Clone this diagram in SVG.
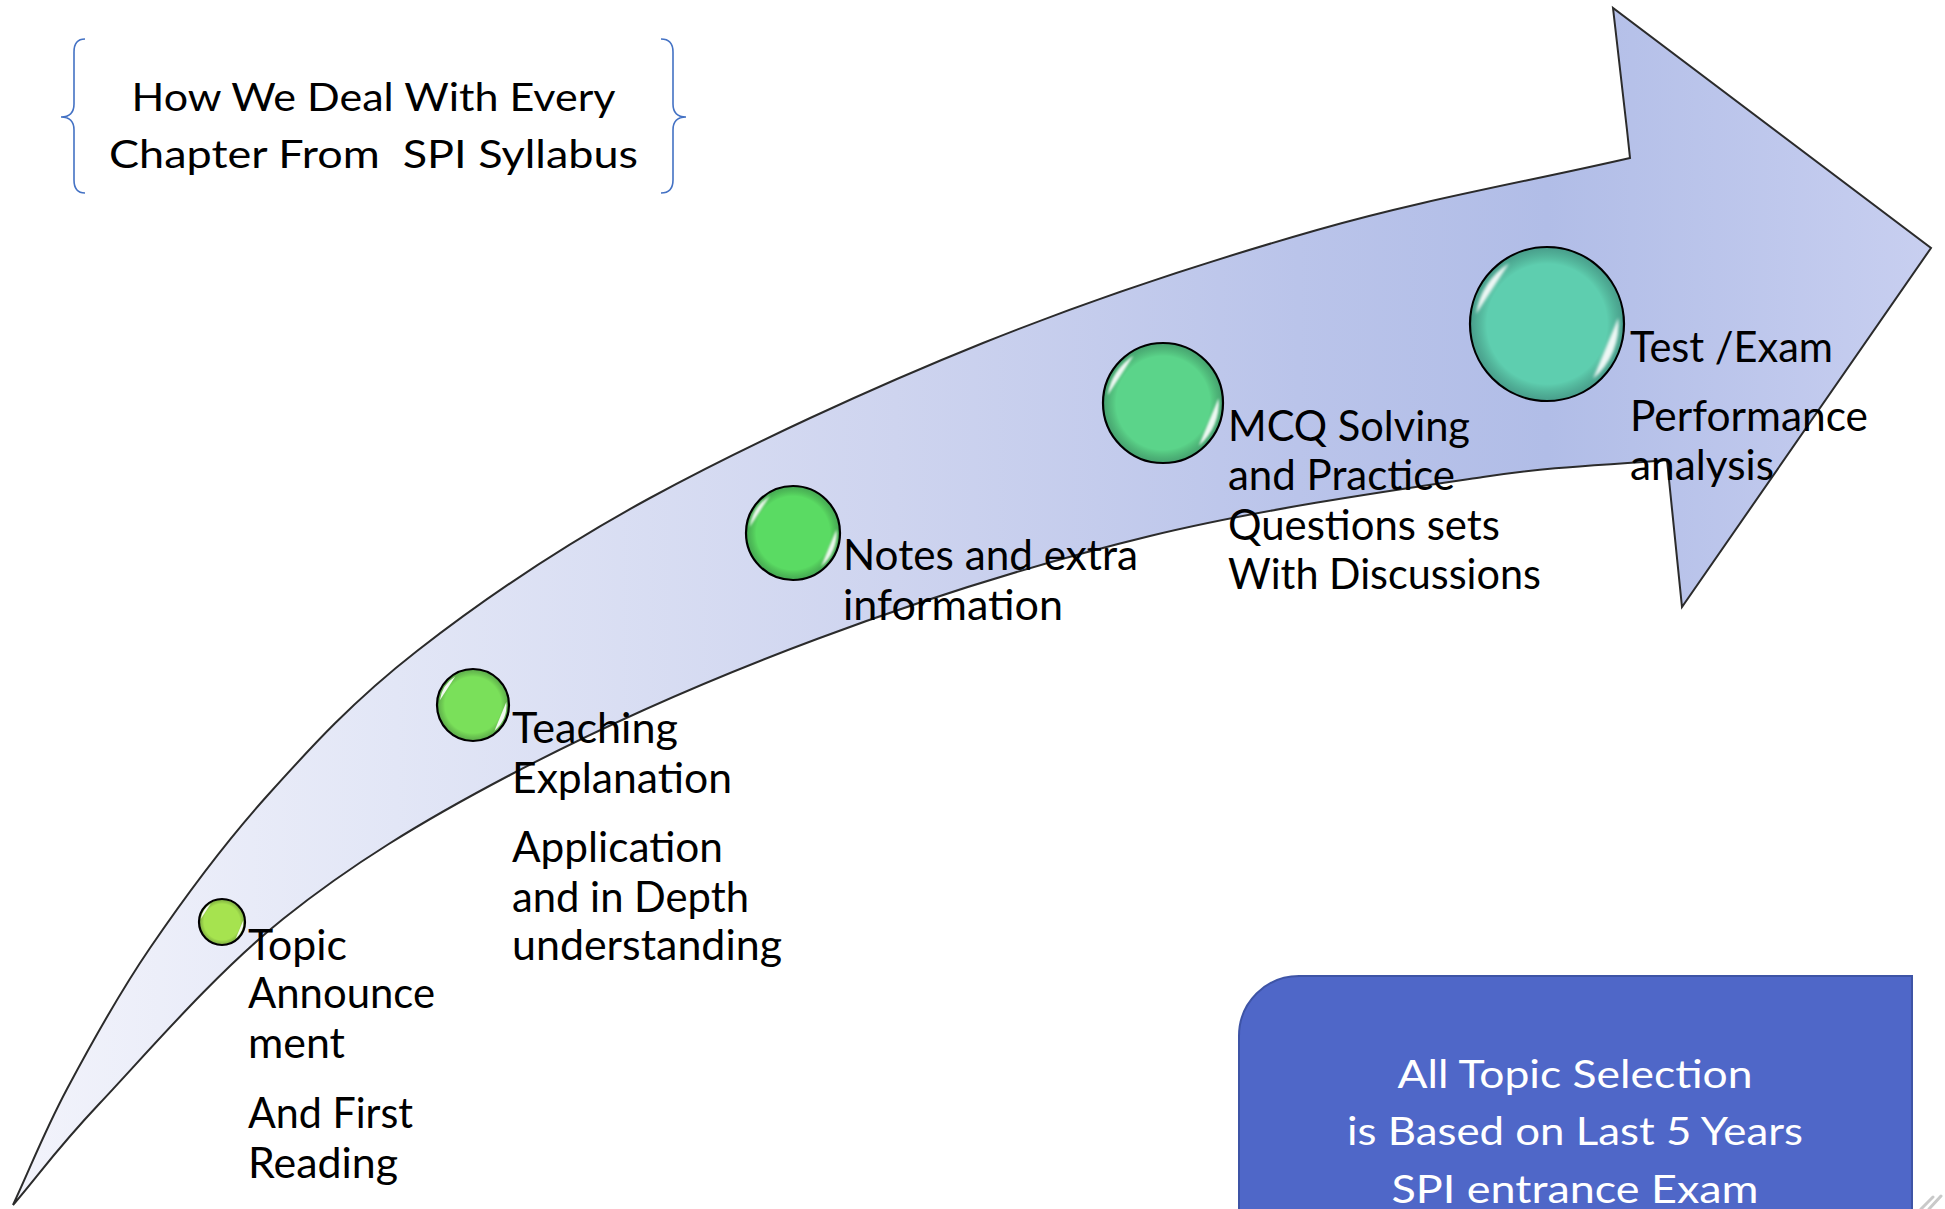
<svg xmlns="http://www.w3.org/2000/svg" xmlns:xlink="http://www.w3.org/1999/xlink" width="1945" height="1209" viewBox="0 0 1945 1209">
<style>
.lbl{font-family:Lato,"Liberation Sans",sans-serif;font-size:42px;fill:#000}
.ttl{font-family:Lato,"Liberation Sans",sans-serif;font-size:39px;fill:#000}
.box{font-family:Lato,"Liberation Sans",sans-serif;font-size:39px;fill:#fff}
.ring{fill:none;stroke:#000;stroke-width:2.2}
.hl{fill:#fff;opacity:0.9}
.brace{fill:none;stroke:#4472C4;stroke-width:1.6}
</style>
<defs>
<linearGradient id="arrowFill" x1="0" y1="0" x2="1" y2="0">
<stop offset="0" stop-color="#F2F3FB"/>
<stop offset="0.2" stop-color="#E2E6F6"/>
<stop offset="0.46" stop-color="#CED4EF"/>
<stop offset="0.67" stop-color="#BAC4EA"/>
<stop offset="0.8" stop-color="#B1BDE7"/>
<stop offset="1" stop-color="#C8CFF0"/>
</linearGradient>
<radialGradient id="shade" cx="0.5" cy="0.5" r="0.5">
<stop offset="0.78" stop-color="#000" stop-opacity="0"/>
<stop offset="1" stop-color="#102030" stop-opacity="0.28"/>
</radialGradient>
<filter id="soft" x="-20%" y="-20%" width="140%" height="140%">
<feGaussianBlur stdDeviation="0.018"/>
</filter>
<g id="gloss">
<circle r="1" fill="url(#shade)"/>
<g filter="url(#soft)">
<path class="hl" d="M-0.921,-0.129 A0.93,0.93 0 0 1 -0.493,-0.789 Z"/>
<path class="hl" d="M0.926,-0.081 A0.93,0.93 0 0 1 0.598,0.712 Z"/>
</g>
</g>
</defs>

<g id="progress-arrow">
<path fill="url(#arrowFill)" stroke="#2B2B2B" stroke-width="2" stroke-linejoin="miter" d="M13,1205 C31,1166.3 44.2,1131.8 67,1089 C89.8,1046.2 116.7,996.8 150,948 C183.3,899.2 222.5,845.5 267,796 C311.5,746.5 353.2,700.7 417,651 C480.8,601.3 555.7,549.3 650,498 C744.3,446.7 871.8,387.7 983,343 C1094.2,298.3 1209.2,260.8 1317,230 C1424.8,199.2 1525.7,182 1630,158 L1627,130 L1613,8 L1931,248 L1682,607 L1667,460 C1605.7,465.7 1569.2,464.3 1483,477 C1396.8,489.7 1261,509 1150,536 C1039,563 923.7,599.2 817,639 C710.3,678.8 599,728.3 510,775 C421,821.7 351.3,864.3 283,919 C214.7,973.7 145,1055.3 100,1103 C55,1150.7 42,1171 13,1205 Z"/>
</g>

<g id="title">
<path class="brace" d="M85,39 Q74,39 74,52 L74,104 Q74,117 61,117 Q74,117 74,130 L74,180 Q74,193 85,193"/>
<path class="brace" d="M661,39 Q673,39 673,52 L673,104 Q673,117 686,117 Q673,117 673,130 L673,180 Q673,193 661,193"/>
<text class="ttl" x="373.5" y="111" text-anchor="middle" textLength="484" lengthAdjust="spacingAndGlyphs">How We Deal With Every</text>
<text class="ttl" x="373.5" y="168" text-anchor="middle" textLength="529" lengthAdjust="spacingAndGlyphs" xml:space="preserve">Chapter From  SPI Syllabus</text>
</g>

<g id="node-topic">
<circle cx="222" cy="922" r="23" fill="#A6E34F"/>
<use xlink:href="#gloss" href="#gloss" transform="translate(222,922) scale(23)"/>
<circle class="ring" cx="222" cy="922" r="23"/>
<text class="lbl" x="248" y="960" textLength="99" lengthAdjust="spacingAndGlyphs">Topic</text>
<text class="lbl" x="248" y="1008" textLength="187" lengthAdjust="spacingAndGlyphs">Announce</text>
<text class="lbl" x="248" y="1058" textLength="97" lengthAdjust="spacingAndGlyphs">ment</text>
<text class="lbl" x="248" y="1128" textLength="165" lengthAdjust="spacingAndGlyphs">And First</text>
<text class="lbl" x="248" y="1178" textLength="150" lengthAdjust="spacingAndGlyphs">Reading</text>
</g>

<g id="node-teaching">
<circle cx="473" cy="705" r="36" fill="#7AE05A"/>
<use xlink:href="#gloss" href="#gloss" transform="translate(473,705) scale(36)"/>
<circle class="ring" cx="473" cy="705" r="36"/>
<text class="lbl" x="512" y="743" textLength="166" lengthAdjust="spacingAndGlyphs">Teaching</text>
<text class="lbl" x="512" y="793" textLength="220" lengthAdjust="spacingAndGlyphs">Explanation</text>
<text class="lbl" x="512" y="862" textLength="211" lengthAdjust="spacingAndGlyphs">Application</text>
<text class="lbl" x="512" y="912" textLength="237" lengthAdjust="spacingAndGlyphs">and in Depth</text>
<text class="lbl" x="512" y="960" textLength="270" lengthAdjust="spacingAndGlyphs">understanding</text>
</g>

<g id="node-notes">
<circle cx="793" cy="533" r="47" fill="#5ADB63"/>
<use xlink:href="#gloss" href="#gloss" transform="translate(793,533) scale(47)"/>
<circle class="ring" cx="793" cy="533" r="47"/>
<text class="lbl" x="843" y="570" textLength="295" lengthAdjust="spacingAndGlyphs">Notes and extra</text>
<text class="lbl" x="843" y="620" textLength="220" lengthAdjust="spacingAndGlyphs">information</text>
</g>

<g id="node-mcq">
<circle cx="1163" cy="403" r="60" fill="#5BD48A"/>
<use xlink:href="#gloss" href="#gloss" transform="translate(1163,403) scale(60)"/>
<circle class="ring" cx="1163" cy="403" r="60"/>
<text class="lbl" x="1228" y="441" textLength="242" lengthAdjust="spacingAndGlyphs">MCQ Solving</text>
<text class="lbl" x="1228" y="490" textLength="227" lengthAdjust="spacingAndGlyphs">and Practice</text>
<text class="lbl" x="1228" y="540" textLength="272" lengthAdjust="spacingAndGlyphs">Questions sets</text>
<text class="lbl" x="1228" y="589" textLength="313" lengthAdjust="spacingAndGlyphs">With Discussions</text>
</g>

<g id="node-test">
<circle cx="1547" cy="324" r="77" fill="#5ECEAF"/>
<use xlink:href="#gloss" href="#gloss" transform="translate(1547,324) scale(77)"/>
<circle class="ring" cx="1547" cy="324" r="77" stroke-width="2.5"/>
<text class="lbl" x="1630" y="362" textLength="203" lengthAdjust="spacingAndGlyphs">Test /Exam</text>
<text class="lbl" x="1630" y="431" textLength="238" lengthAdjust="spacingAndGlyphs">Performance</text>
<text class="lbl" x="1630" y="480" textLength="144" lengthAdjust="spacingAndGlyphs">analysis</text>
</g>

<g id="note-box">
<path d="M1239,1215 L1239,1036 A60,60 0 0 1 1299,976 L1912,976 L1912,1215 Z" fill="#4F67C8" stroke="#3E54A6" stroke-width="2"/>
<text class="box" x="1575" y="1088" text-anchor="middle" textLength="355" lengthAdjust="spacingAndGlyphs">All Topic Selection</text>
<text class="box" x="1575" y="1145" text-anchor="middle" textLength="456" lengthAdjust="spacingAndGlyphs">is Based on Last 5 Years</text>
<text class="box" x="1575" y="1203" text-anchor="middle" textLength="367" lengthAdjust="spacingAndGlyphs">SPI entrance Exam</text>
</g>

<g id="corner-mark" fill="none" stroke="#C9C9C9" stroke-width="3" stroke-linecap="round">
<path d="M1921,1209 L1933,1197"/>
<path d="M1929,1209 L1941,1196"/>
</g>
</svg>
